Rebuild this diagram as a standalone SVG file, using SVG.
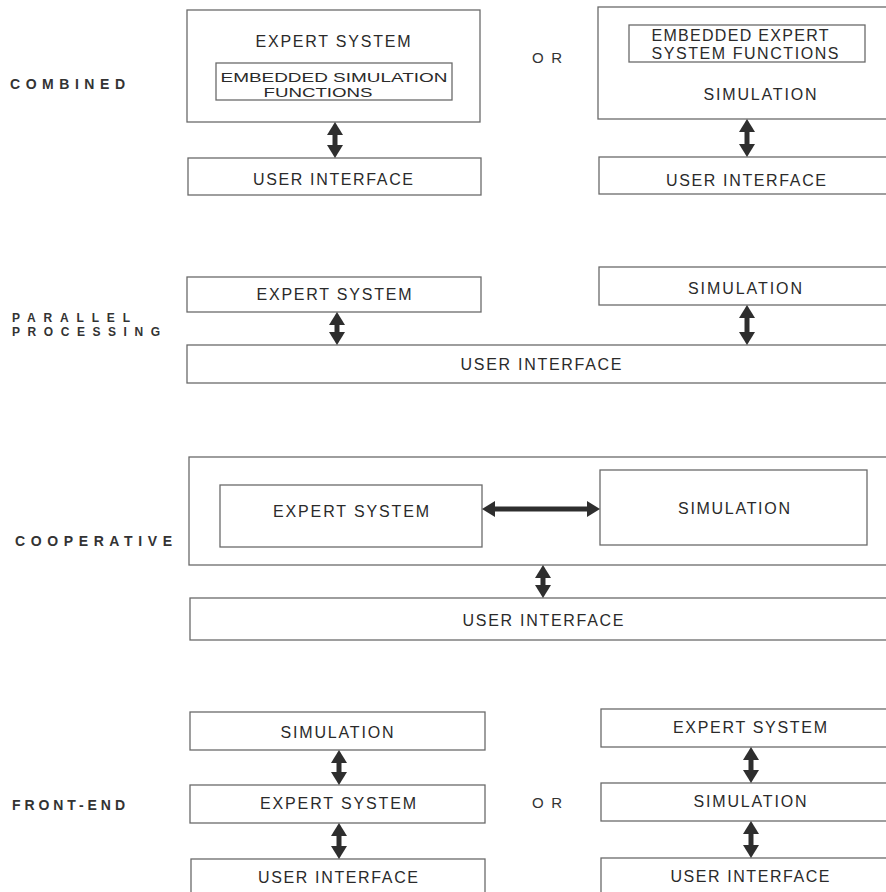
<svg xmlns="http://www.w3.org/2000/svg" width="886" height="892" viewBox="0 0 886 892">
  <style>
    .box { fill: none; stroke: #6a6a6a; stroke-width: 1.3; }
    .t { font-family: "Liberation Sans", Arial, sans-serif; font-size: 16px; fill: #2a2a2a; text-anchor: middle; }
    .ts { font-family: "Liberation Sans", Arial, sans-serif; font-size: 13.5px; fill: #2a2a2a; text-anchor: middle; }
    .lbl { font-family: "Liberation Sans", Arial, sans-serif; font-size: 14px; fill: #333; font-weight: bold; }
    .lbl2 { font-family: "Liberation Sans", Arial, sans-serif; font-size: 12px; fill: #333; font-weight: bold; }
    .or { font-family: "Liberation Sans", Arial, sans-serif; font-size: 15px; fill: #333; }
    .link { stroke: #2e2e2e; stroke-width: 5; fill: none; marker-start: url(#head); marker-end: url(#head); }
  </style>
  <defs>
    <marker id="head" viewBox="0 0 13 16" refX="3" refY="8" markerWidth="13" markerHeight="16" markerUnits="userSpaceOnUse" orient="auto-start-reverse">
      <path d="M0,0 L13,8 L0,16 z" fill="#2e2e2e"/>
    </marker>
  </defs>
  <rect width="886" height="892" fill="#ffffff"/>

  <!-- row labels -->
  <g id="labels">
    <text class="lbl" x="10" y="89" textLength="115">COMBINED</text>
    <text class="lbl2" x="12" y="322" textLength="118">PARALLEL</text>
    <text class="lbl2" x="12" y="336" textLength="148">PROCESSING</text>
    <text class="lbl" x="15" y="546" textLength="157">COOPERATIVE</text>
    <text class="lbl" x="12" y="810" textLength="113">FRONT-END</text>
    <text class="or" x="532" y="63" textLength="30">OR</text>
    <text class="or" x="532" y="808" textLength="30">OR</text>
  </g>

  <!-- COMBINED, left -->
  <g id="c1-expert">
    <rect class="box" x="187" y="10" width="293" height="112"/>
    <text class="t" x="333" y="47" textLength="155">EXPERT  SYSTEM</text>
    <rect class="box" x="216" y="63" width="236" height="37"/>
    <text class="ts" x="334" y="82" textLength="227" lengthAdjust="spacingAndGlyphs">EMBEDDED  SIMULATION</text>
    <text class="ts" x="318" y="97" textLength="109" lengthAdjust="spacingAndGlyphs">FUNCTIONS</text>
  </g>
  <g id="c1-ui">
    <rect class="box" x="188" y="158" width="293" height="37"/>
    <text class="t" x="333" y="185" textLength="160">USER  INTERFACE</text>
  </g>

  <!-- COMBINED, right -->
  <g id="c2-sim">
    <rect class="box" x="598" y="7" width="310" height="112"/>
    <rect class="box" x="629" y="25" width="236" height="37"/>
    <text class="t" x="740" y="41" textLength="177">EMBEDDED EXPERT</text>
    <text class="t" x="745" y="59" textLength="187">SYSTEM FUNCTIONS</text>
    <text class="t" x="760" y="100" textLength="113">SIMULATION</text>
  </g>
  <g id="c2-ui">
    <rect class="box" x="599" y="157" width="310" height="37"/>
    <text class="t" x="746" y="186" textLength="160">USER  INTERFACE</text>
  </g>

  <!-- PARALLEL PROCESSING -->
  <g id="p-expert">
    <rect class="box" x="187" y="277" width="294" height="35"/>
    <text class="t" x="334" y="300" textLength="155">EXPERT  SYSTEM</text>
  </g>
  <g id="p-sim">
    <rect class="box" x="599" y="267" width="310" height="38"/>
    <text class="t" x="745" y="294" textLength="114">SIMULATION</text>
  </g>
  <g id="p-ui">
    <rect class="box" x="187" y="345" width="720" height="38"/>
    <text class="t" x="541" y="370" textLength="161">USER  INTERFACE</text>
  </g>

  <!-- COOPERATIVE -->
  <g id="co-outer">
    <rect class="box" x="189" y="457" width="720" height="108"/>
  </g>
  <g id="co-expert">
    <rect class="box" x="220" y="485" width="262" height="62"/>
    <text class="t" x="351" y="517" textLength="156">EXPERT  SYSTEM</text>
  </g>
  <g id="co-sim">
    <rect class="box" x="600" y="470" width="267" height="75"/>
    <text class="t" x="734" y="514" textLength="112">SIMULATION</text>
  </g>
  <g id="co-ui">
    <rect class="box" x="190" y="598" width="720" height="42"/>
    <text class="t" x="543" y="626" textLength="161">USER  INTERFACE</text>
  </g>

  <!-- FRONT-END, left -->
  <g id="f1-sim">
    <rect class="box" x="190" y="712" width="295" height="38"/>
    <text class="t" x="337" y="738" textLength="113">SIMULATION</text>
  </g>
  <g id="f1-expert">
    <rect class="box" x="190" y="785" width="295" height="38"/>
    <text class="t" x="338" y="809" textLength="156">EXPERT  SYSTEM</text>
  </g>
  <g id="f1-ui">
    <rect class="box" x="191" y="859" width="294" height="45"/>
    <text class="t" x="338" y="883" textLength="160">USER  INTERFACE</text>
  </g>

  <!-- FRONT-END, right -->
  <g id="f2-expert">
    <rect class="box" x="601" y="709" width="310" height="38"/>
    <text class="t" x="750" y="733" textLength="154">EXPERT  SYSTEM</text>
  </g>
  <g id="f2-sim">
    <rect class="box" x="601" y="783" width="310" height="38"/>
    <text class="t" x="750" y="807" textLength="113">SIMULATION</text>
  </g>
  <g id="f2-ui">
    <rect class="box" x="601" y="858" width="310" height="45"/>
    <text class="t" x="750" y="882" textLength="159">USER  INTERFACE</text>
  </g>

  <!-- connectors: double-headed arrows -->
  <g id="connectors">
    <line class="link" x1="335" y1="132" x2="335" y2="148"/>
    <line class="link" x1="747" y1="129" x2="747" y2="147"/>
    <line class="link" x1="337" y1="322" x2="337" y2="335"/>
    <line class="link" x1="747" y1="315" x2="747" y2="335"/>
    <line class="link" x1="492" y1="509" x2="590" y2="509"/>
    <line class="link" x1="543" y1="575" x2="543" y2="588"/>
    <line class="link" x1="339" y1="760" x2="339" y2="775"/>
    <line class="link" x1="339" y1="833" x2="339" y2="849"/>
    <line class="link" x1="751" y1="757" x2="751" y2="773"/>
    <line class="link" x1="751" y1="831" x2="751" y2="848"/>
  </g>
</svg>
